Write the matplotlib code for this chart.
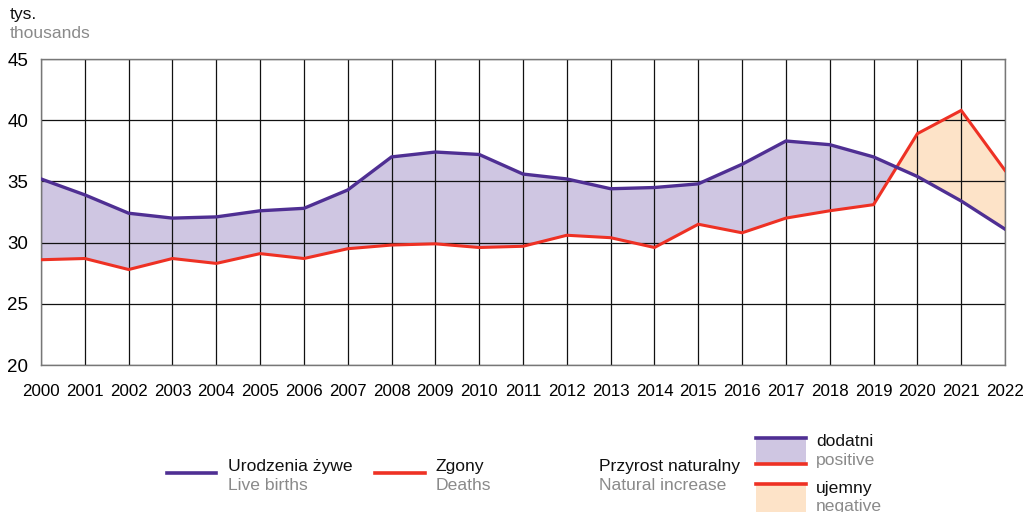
import matplotlib
matplotlib.use("Agg")
import matplotlib.pyplot as plt
import numpy as np
from matplotlib.patches import Rectangle
from matplotlib.lines import Line2D

years = list(range(2000, 2023))
births = [35.2, 33.9, 32.4, 32.0, 32.1, 32.6, 32.8, 34.3, 37.0, 37.4, 37.2,
          35.6, 35.2, 34.4, 34.5, 34.8, 36.4, 38.3, 38.0, 37.0, 35.4, 33.4, 31.1]
deaths = [28.6, 28.7, 27.8, 28.7, 28.3, 29.1, 28.7, 29.5, 29.8, 29.9, 29.6,
          29.7, 30.6, 30.4, 29.6, 31.5, 30.8, 32.0, 32.6, 33.1, 38.9, 40.8, 35.9]
yticks = [20, 25, 30, 35, 40, 45]

C_BIRTH = "#4f2f93"
C_DEATH = "#ee3124"
C_POS = "#cfc6e2"
C_NEG = "#fde3c8"
GRAY = "#8a8a8a"

plt.rcParams['font.family'] = ['Liberation Sans', 'DejaVu Sans']
FS_LEG = 12.6

fig = plt.figure(figsize=(10.34, 5.12), dpi=100)
ax = fig.add_axes([41/1034, 1-365/512, (1005-41)/1034, (365-59)/512])

x = np.array(years, dtype=float)
b = np.array(births)
d = np.array(deaths)
ax.fill_between(x, b, d, where=b >= d, interpolate=True, color=C_POS, lw=0, zorder=1)
ax.fill_between(x, b, d, where=b <= d, interpolate=True, color=C_NEG, lw=0, zorder=1)

for yy in yticks:
    ax.axhline(yy, color="#111111", lw=0.9, zorder=2)
for xx in years:
    ax.axvline(xx, color="#111111", lw=0.9, zorder=2)

ax.plot(x, d, color=C_DEATH, lw=2.2, zorder=3, solid_joinstyle='miter')
ax.plot(x, b, color=C_BIRTH, lw=2.4, zorder=4, solid_joinstyle='miter')

ax.set_xlim(2000, 2022)
ax.set_ylim(20, 45)
ax.set_xticks(years)
ax.set_xticklabels([str(y) for y in years], fontsize=12.2)
ax.set_yticks(yticks)
ax.set_yticklabels([str(v) for v in yticks], fontsize=13.5)
ax.tick_params(axis='x', length=0, pad=14)
ax.tick_params(axis='y', length=0, pad=9)
for s in ax.spines.values():
    s.set_color("#777777")
    s.set_linewidth(1.0)

def fx(px):
    return px / 1034
def fy(py):
    return 1 - py / 512

fig.text(fx(10), fy(15), "tys.", fontsize=FS_LEG, va='center', ha='left', color="#111111")
fig.text(fx(10), fy(33), "thousands", fontsize=FS_LEG, va='center', ha='left', color=GRAY)

# legend: lines
fig.add_artist(Line2D([fx(167), fx(216)], [fy(473), fy(473)], color=C_BIRTH, lw=2.6))
fig.text(fx(228), fy(466), "Urodzenia żywe", fontsize=FS_LEG, va='center', ha='left', color="#111111")
fig.text(fx(228), fy(485), "Live births", fontsize=FS_LEG, va='center', ha='left', color=GRAY)

fig.add_artist(Line2D([fx(375), fx(425)], [fy(473), fy(473)], color=C_DEATH, lw=2.6))
fig.text(fx(436), fy(466), "Zgony", fontsize=FS_LEG, va='center', ha='left', color="#111111")
fig.text(fx(436), fy(485), "Deaths", fontsize=FS_LEG, va='center', ha='left', color=GRAY)

fig.text(fx(599), fy(466), "Przyrost naturalny", fontsize=FS_LEG, va='center', ha='left', color="#111111")
fig.text(fx(599), fy(485), "Natural increase", fontsize=FS_LEG, va='center', ha='left', color=GRAY)

# positive patch
fig.add_artist(Rectangle((fx(756), fy(465)), fx(50), (465-438)/512, facecolor=C_POS, edgecolor='none'))
fig.add_artist(Line2D([fx(756), fx(806)], [fy(438), fy(438)], color=C_BIRTH, lw=2.6))
fig.add_artist(Line2D([fx(756), fx(806)], [fy(464), fy(464)], color=C_DEATH, lw=2.6))
fig.text(fx(816), fy(441), "dodatni", fontsize=FS_LEG, va='center', ha='left', color="#111111")
fig.text(fx(816), fy(460), "positive", fontsize=FS_LEG, va='center', ha='left', color=GRAY)

# negative patch
fig.add_artist(Rectangle((fx(756), fy(514)), fx(50), (514-484)/512, facecolor=C_NEG, edgecolor='none'))
fig.add_artist(Line2D([fx(756), fx(806)], [fy(484), fy(484)], color=C_DEATH, lw=2.6))
fig.text(fx(816), fy(488), "ujemny", fontsize=FS_LEG, va='center', ha='left', color="#111111")
fig.text(fx(816), fy(506), "negative", fontsize=FS_LEG, va='center', ha='left', color=GRAY)

fig.savefig("out.png", dpi=100)
